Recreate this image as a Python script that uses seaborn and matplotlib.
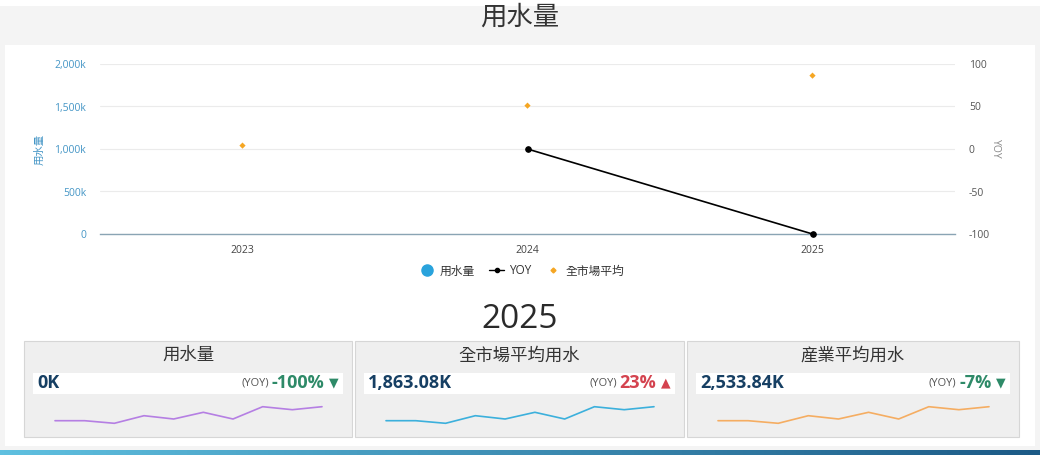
import numpy as np
import pandas as pd
import matplotlib
matplotlib.use('Agg')
import matplotlib.pyplot as plt
import seaborn as sns
from matplotlib.patches import Rectangle
from matplotlib.lines import Line2D
from matplotlib.ticker import FuncFormatter
from matplotlib.colors import LinearSegmentedColormap

# ---- data ----
years = ['2023', '2024', '2025']
usage = [0, 0, 0]                     # 用水量 (k)
market_avg = [1040, 1510, 1863.08]    # 全市場平均 (k)
yoy = [np.nan, 0, -100]               # YOY (%)

card_titles = ['用水量', '全市場平均用水', '産業平均用水']
card_values = ['0K', '1,863.08K', '2,533.84K']
card_yoy = ['-100%', '23%', '-7%']
card_up = [False, True, False]

spark_usage = [3.3, 3.3, 0.7, 8.3, 5, 11.7, 5, 17.3, 14.3, 17.3]
spark_market = [3.3, 3.3, 0.7, 8.3, 5, 11.7, 5, 17.3, 14.3, 17.3]
spark_industry = [3.3, 3.3, 0.7, 8.3, 5, 11.7, 5, 17.3, 14.3, 17.3]

# ---- style ----
sns.set_style('white')
plt.rcParams['font.family'] = ['Open Sans', 'Noto Sans CJK TC', 'DejaVu Sans']
plt.rcParams['axes.unicode_minus'] = False

W, H = 1040, 455
def fx(px):
    return px / W
def fy(py):
    return 1 - py / H

fig = plt.figure(figsize=(10.4, 4.55), dpi=100)
fig.patch.set_facecolor('white')

# background panels (below axes)
fig.patches.append(Rectangle((0, fy(450)), 1, fy(6) - fy(450), transform=fig.transFigure,
                             facecolor='#f4f4f4', edgecolor='none', zorder=-3))
fig.patches.append(Rectangle((fx(5), fy(446)), fx(1030), fy(45) - fy(446), transform=fig.transFigure,
                             facecolor='white', edgecolor='none', zorder=-2))
fig.text(0.5, fy(18), '用水量', ha='center', va='center', fontsize=19, color='#333333')

# ---- main chart ----
df = pd.DataFrame({'year': years, 'pos': np.arange(len(years)),
                   'usage': usage, 'market': market_avg, 'yoy': yoy})

ax = fig.add_axes([fx(100), fy(234), fx(955) - fx(100), (234 - 64) / H])
ax.set_facecolor('none')
sns.barplot(data=df, x='year', y='usage', color='#29a3dc', width=0.5, ax=ax)
sns.scatterplot(data=df, x='pos', y='market', marker='D', s=10, color='#f5a623',
                edgecolor='none', ax=ax, zorder=5)
ax.set_xlim(-0.5, 2.5)
ax.set_ylim(0, 2000)
ax.set_yticks([0, 500, 1000, 1500, 2000])
ax.yaxis.set_major_formatter(FuncFormatter(lambda v, p: '0' if v == 0 else f'{v:,.0f}k'))
ax.set_xticks(df['pos'])
ax.set_xticklabels(years)
ax.grid(axis='y', color='#ebebeb', linewidth=0.8)
ax.set_axisbelow(True)
for s in ['top', 'right', 'left']:
    ax.spines[s].set_visible(False)
ax.spines['bottom'].set_color('#8aa4b4')
ax.spines['bottom'].set_linewidth(1)
ax.tick_params(axis='y', length=0, pad=10, labelsize=7.5, labelcolor='#4596c6')
ax.tick_params(axis='x', length=0, pad=8, labelsize=7.5, labelcolor='#444444')
ax.set_xlabel('')
ax.set_ylabel('用水量', fontsize=7.5, color='#4596c6', labelpad=6)

ax2 = ax.twinx()
sns.lineplot(data=df.dropna(subset=['yoy']), x='pos', y='yoy', color='black', linewidth=1.2,
             marker='o', markersize=4, markeredgecolor='black', ax=ax2, legend=False)
ax2.set_ylim(-100, 100)
ax2.set_yticks([-100, -50, 0, 50, 100])
ax2.set_xlim(-0.5, 2.5)
for s in ax2.spines.values():
    s.set_visible(False)
ax2.tick_params(axis='y', length=0, pad=10, labelsize=7.5, labelcolor='#555555')
ax2.set_ylabel('YOY', fontsize=7.5, color='#888888', rotation=270, labelpad=8)
ax2.set_xlabel('')
ax2.lines[0].set_clip_on(False)

handles = [Line2D([], [], marker='o', color='#29a3dc', linestyle='none', markersize=8),
           Line2D([], [], marker='o', color='black', linewidth=1, markersize=3),
           Line2D([], [], marker='D', color='#f5a623', linestyle='none', markersize=2.5)]
fig.legend(handles, ['用水量', 'YOY', '全市場平均'], loc='center', bbox_to_anchor=(fx(522), fy(271)),
           ncol=3, frameon=False, fontsize=8.5, handlelength=1.3, handletextpad=0.4,
           columnspacing=1.2, labelcolor='#333333')

# ---- 2025 cards ----
fig.text(0.5, fy(319), '2025', ha='center', va='center', fontsize=24, color='#2a2a2a')

cards = [(24, 352), (355, 684), (687, 1019)]
spark_data = [spark_usage, spark_market, spark_industry]
spark_colors = ['#b57fe3', '#3cb0dc', '#f5ad62']
renderer = fig.canvas.get_renderer()

for i, (l, r) in enumerate(cards):
    fig.patches.append(Rectangle((fx(l), fy(437)), fx(r - l), fy(341) - fy(437), transform=fig.transFigure,
                                 facecolor='#efefef', edgecolor='#d6d6d6', linewidth=0.8, zorder=-1))
    fig.patches.append(Rectangle((fx(l + 9), fy(394)), fx(r - l - 18), fy(373) - fy(394),
                                 transform=fig.transFigure, facecolor='white', edgecolor='none',
                                 zorder=-0.5))
    fig.text(fx((l + r) / 2), fy(356), card_titles[i], ha='center', va='center', fontsize=12.5,
             color='#333333', zorder=3)
    fig.text(fx(l + 13), fy(383.5), card_values[i], ha='left', va='center', fontsize=13,
             fontweight='bold', color='#163f63', zorder=3)
    col = '#d4434f' if card_up[i] else '#2e8a68'
    tri = fig.text(fx(r - 13), fy(383), '▲' if card_up[i] else '▼', ha='right', va='center',
                   fontsize=9, color=col, family='DejaVu Sans', zorder=3)
    tb = tri.get_window_extent(renderer)
    pct = fig.text(tb.x0 / W - fx(5), fy(383.5), card_yoy[i], ha='right', va='center', fontsize=13,
                   fontweight='bold', color=col, zorder=3)
    pb = pct.get_window_extent(renderer)
    fig.text(pb.x0 / W - fx(3), fy(383), '(YOY)', ha='right', va='center', fontsize=8,
             color='#555555', zorder=3)

    sax = fig.add_axes([fx(l + 31), fy(426), fx(r - l - 61), (426 - 404) / H])
    sax.set_facecolor('none')
    sns.lineplot(x=np.arange(len(spark_data[i])), y=spark_data[i], color=spark_colors[i],
                 linewidth=1.2, ax=sax)
    sax.set_xlim(0, len(spark_data[i]) - 1)
    sax.set_ylim(-2, 20)
    sax.axis('off')
    sax.lines[0].set_clip_on(False)

# bottom gradient bar
bax = fig.add_axes([0, fy(455), 1, (455 - 450) / H])
cmap = LinearSegmentedColormap.from_list('bar', ['#5fc0e0', '#1c5a86'])
bax.imshow(np.linspace(0, 1, 256).reshape(1, -1), aspect='auto', cmap=cmap)
bax.axis('off')

fig.savefig('out.png', dpi=100, facecolor=fig.get_facecolor())
